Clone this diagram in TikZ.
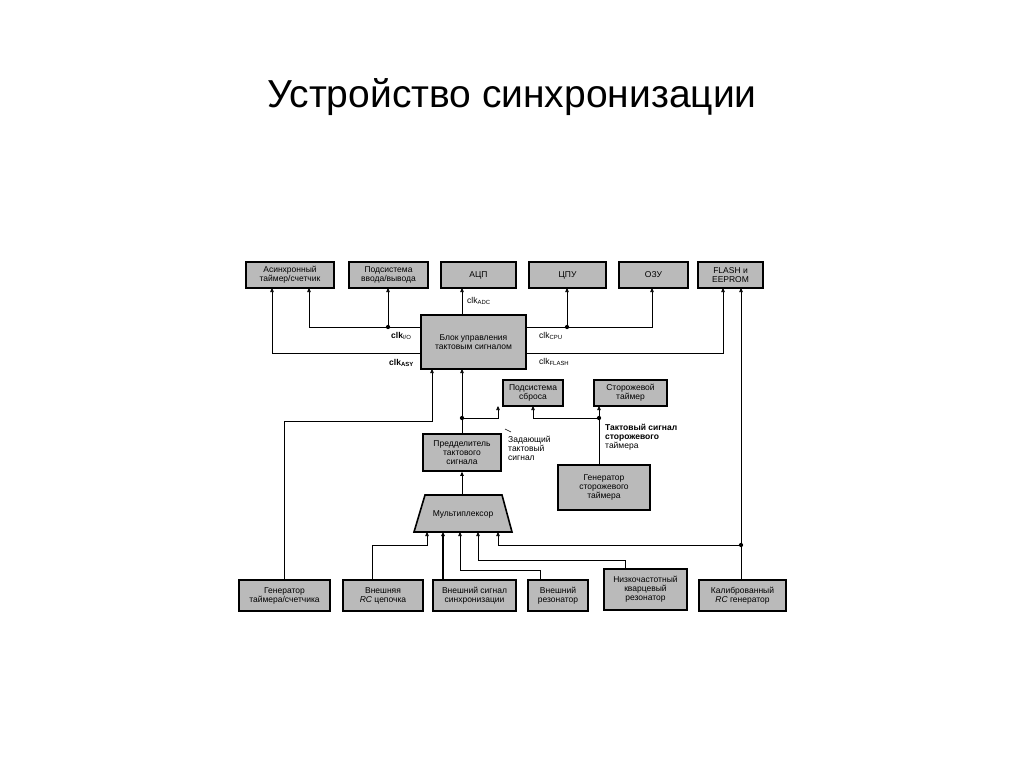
\documentclass[tikz,border=0pt]{standalone}
\usepackage{fontspec}
\setmainfont{Liberation Sans}
\usetikzlibrary{arrows.meta}
\begin{document}
\begin{tikzpicture}[x=1pt,y=-1pt,
  bx/.style={draw,line width=1.6pt,fill=black!27,inner sep=0pt,font=\fontsize{8.5}{9}\selectfont,align=center},
  ln/.style={line width=0.6pt},
  ar/.style={ln,-{Triangle[length=4pt,width=3.5pt]}},
  dt/.style={circle,fill,inner sep=1.5pt},
  lb/.style={font=\fontsize{8.5}{9}\selectfont,inner sep=0pt}]
\useasboundingbox (0,0) rectangle (1024,767);
\node[font=\fontsize{39}{44}\selectfont] (title) at (512,97) {Устройство синхронизации};
\newcommand\bxat[5]{\node[bx,minimum width=#3-#2,minimum height=#5-#4] (#1) at ({(#2+#3)/2},{(#4+#5)/2})}
\bxat{asy}{246}{334}{262}{288} {Асинхронный\\таймер/счетчик};
\bxat{io}{349}{428}{262}{288} {Подсистема\\ввода/вывода};
\bxat{adc}{441}{516}{262}{288} {АЦП};
\bxat{cpu}{529}{606}{262}{288} {ЦПУ};
\bxat{ram}{619}{688}{262}{288} {ОЗУ};
\bxat{fl}{698}{763}{262}{288} {FLASH и\\EEPROM};
\bxat{blk}{421}{526}{315}{369} {Блок управления\\тактовым сигналом};
\bxat{rst}{503}{563}{380}{406} {Подсистема\\сброса};
\bxat{wdt}{594}{667}{380}{406} {Сторожевой\\таймер};
\bxat{pre}{423}{501}{434}{471} {Предделитель\\тактового\\сигнала};
\bxat{wgen}{558}{650}{465}{510} {Генератор\\сторожевого\\таймера};
\bxat{tg}{239}{330}{580}{611} {Генератор\\таймера/счетчика};
\bxat{rc}{343}{423}{580}{611} {Внешняя\\\textit{RC} цепочка};
\bxat{ext}{433}{516}{580}{611} {Внешний сигнал\\синхронизации};
\bxat{res}{528}{588}{580}{611} {Внешний\\резонатор};
\bxat{lf}{604}{687}{569}{610} {Низкочастотный\\кварцевый\\резонатор};
\bxat{cal}{699}{786}{580}{611} {Калиброванный\\\textit{RC} генератор};
\draw[line width=1.6pt,fill=black!27] (425,495) -- (502,495) -- (512,532) -- (414,532) -- cycle;
\node[lb] (mux) at (463,514) {Мультиплексор};
\coordinate (j1) at (388,327); \coordinate (j2) at (567,327);
\coordinate (j3) at (462,418); \coordinate (j4) at (599,418);
\coordinate (j5) at (741,545);
\node[dt] at (j1) {}; \node[dt] at (j2) {}; \node[dt] at (j3) {}; \node[dt] at (j4) {}; \node[dt] at (j5) {};
\draw[ar] (blk.west |- 0,327) -- (309,327) -- (309,288);
\draw[ar] (j1) -- (388,288);
\draw[ar] (blk.west |- 0,353) -- (272,353) -- (272,288);
\draw[ar] (462,315) -- (462,288);
\draw[ar] (blk.east |- 0,327) -- (652,327) -- (652,288);
\draw[ar] (j2) -- (567,288);
\draw[ar] (blk.east |- 0,353) -- (723,353) -- (723,288);
\node[lb,anchor=west] (cio) at (391,336) {\textbf{clk}\textsubscript{I/O}};
\node[lb,anchor=west] (cadc) at (467,301) {clk\textsubscript{ADC}};
\node[lb,anchor=west] (ccpu) at (539,336) {clk\textsubscript{CPU}};
\node[lb,anchor=west] (casy) at (389,363) {\textbf{clk\textsubscript{ASY}}};
\node[lb,anchor=west] (cfl) at (539,362) {clk\textsubscript{FLASH}};
\draw[ar] (pre.north -| 462,0) -- (462,369);
\draw[ar] (j3) -- (498,418) -- (498,406);
\draw[ar] (j4) -- (533,418) -- (533,406);
\draw[ar] (wgen.north -| 599,0) -- (599,406);
\draw[ar] (tg.north -| 284,0) -- (284,421) -- (432,421) -- (432,369);
\draw[ar] (462,495) -- (pre.south -| 462,0);
\node[lb,anchor=north west,align=left] (zad) at (508,436) {Задающий\\тактовый\\сигнал};
\draw[ln] (505,429) -- (511,432);
\node[lb,anchor=north west,align=left] (tw) at (605,424) {\textbf{Тактовый сигнал}\\\textbf{сторожевого}\\таймера};
\draw[ar] (rc.north -| 372,0) -- (372,545) -- (427,545) -- (427,532);
\draw[ar,line width=1.2pt] (ext.north -| 443,0) -- (443,532);
\draw[ar] (res.north -| 540,0) -- (540,570) -- (460,570) -- (460,532);
\draw[ar] (lf.north -| 625,0) -- (625,560) -- (478,560) -- (478,532);
\draw[ar] (cal.north -| 741,0) -- (741,288);
\draw[ar] (j5) -- (498,545) -- (498,532);
\end{tikzpicture}
\end{document}
